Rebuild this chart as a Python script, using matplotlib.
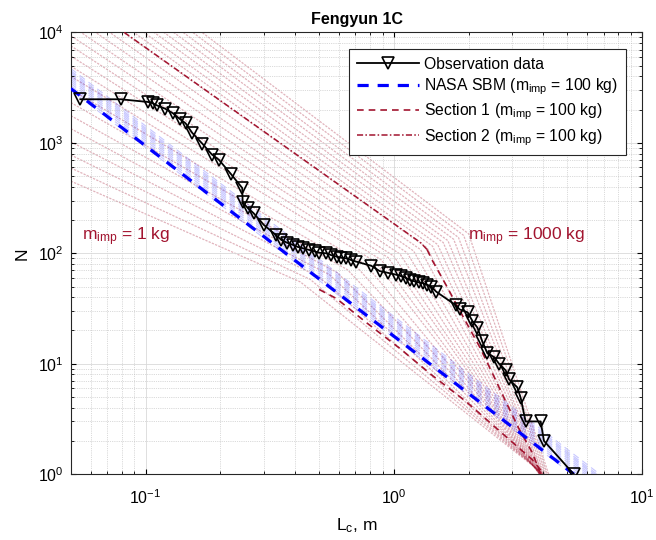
import numpy as np
import matplotlib
matplotlib.use('Agg')
import matplotlib.pyplot as plt

plt.rcParams['font.family'] = ['Liberation Sans', 'DejaVu Sans']
plt.rcParams['mathtext.fontset'] = 'custom'
plt.rcParams['mathtext.rm'] = 'Liberation Sans'
plt.rcParams['mathtext.it'] = 'Liberation Sans:italic'

# observation data (cumulative number of fragments vs characteristic length)
obs_lc = [0.0546, 0.0793, 0.102, 0.107, 0.111, 0.120, 0.129, 0.137, 0.145, 0.154,
          0.169, 0.185, 0.197, 0.220, 0.245, 0.246, 0.258, 0.272, 0.299, 0.334,
          0.352, 0.370, 0.392, 0.410, 0.430, 0.457, 0.480, 0.500, 0.533, 0.560,
          0.590, 0.615, 0.643, 0.670, 0.705, 0.811, 0.876, 0.946, 1.02, 1.07,
          1.12, 1.16, 1.21, 1.26, 1.31, 1.36, 1.41, 1.48, 1.78, 1.84,
          1.98, 2.07, 2.17, 2.27, 2.38, 2.53, 2.65, 2.82, 2.91, 3.14,
          3.24, 3.39, 3.90, 4.02, 5.30]
obs_n = [2480, 2480, 2345, 2280, 2184, 2036, 1848, 1652, 1500, 1233,
         986, 783, 705, 526, 390, 289, 257, 231, 181, 147,
         132, 125, 119, 114, 111, 107, 104, 101, 100, 96,
         93, 91, 90, 87, 84, 77, 69, 66.5, 64, 62,
         59.7, 57.5, 55.6, 54.5, 53.7, 52, 50, 44.9, 33.7, 31,
         29.2, 24.4, 21.2, 15.9, 12.4, 11.5, 10, 8.7, 7.2, 6.1,
         4.9, 3, 3, 2, 1]

# NASA SBM, m_imp = 100 kg
sbm_lc = [0.05, 5.3]
sbm_n = [3100, 1]

# NASA SBM for the other impactor masses (start value at Lc = 0.05, Lc where N = 1)
sbm_fam_n0 = [3000, 3150, 3300, 3450, 3600, 3750, 3900, 4050, 4200, 4350, 4500, 4700]
sbm_fam_end = [5.20, 5.35, 5.49, 5.64, 5.78, 5.91, 6.05, 6.18, 6.32, 6.44, 6.57, 6.74]

# section 2, m_imp = 100 kg
sec2_lc = [0.082, 1.28, 1.36]
sec2_n = [10000, 125, 108]

# section 1, m_imp = 100 kg (steep branch and lower branch)
sec1a_lc = [1.36, 1.43, 1.62, 1.89, 2.21, 2.50, 2.82, 3.19, 3.61, 3.90]
sec1a_n = [108, 85.5, 51.8, 27.2, 14.3, 8.07, 4.55, 2.57, 1.56, 1.0]
sec1b_lc = [0.50, 0.587, 0.774, 1.054, 1.43, 1.95, 2.65, 3.61, 4.02]
sec1b_n = [47, 38.9, 23.6, 13.8, 7.8, 4.55, 2.48, 1.35, 1.0]

# faint model curves for m_imp = 1 ... 1000 kg
fam_n_left = [450, 592, 776, 1021, 1343, 1762, 2317, 3041, 4000, 4943,
              6109, 7551, 9333, 11535, 14256, 17620, 21800, 25590, 30060, 35320,
              41500, 48750, 57280, 67300, 79000]
fam_knee_lc = [0.42, 0.46, 0.50, 0.55, 0.59, 0.65, 0.71, 0.77, 0.84, 0.89,
               0.95, 1.00, 1.06, 1.13, 1.20, 1.28, 1.36, 1.43, 1.50, 1.58,
               1.65, 1.74, 1.82, 1.91, 2.00]
fam_knee_n = [55, 58, 61, 64, 67, 71, 75, 79, 84, 87,
              91, 94, 98, 101, 105, 108, 112, 116, 120, 125,
              130, 134, 139, 145, 150]
fam_end_lc = [4.0, 4.0, 3.98, 3.96, 3.94, 3.92, 3.9, 3.88, 3.86, 3.86,
              3.86, 3.86, 3.87, 3.87, 3.88, 3.89, 3.9, 3.92, 3.95, 3.98,
              4.0, 4.05, 4.1, 4.15, 4.2]

dred = '#A2142F'

fig = plt.figure(figsize=(6.56, 5.4), dpi=100)
ax = fig.add_axes([0.108, 0.122, 0.871, 0.818])

# faint families
for n0, kx, kn, ex in zip(fam_n_left, fam_knee_lc, fam_knee_n, fam_end_lc):
    ax.plot([0.05, kx, ex], [n0, kn, 1], color=dred, alpha=0.32, lw=0.9,
            dashes=(1.8, 1.0), zorder=1)
for n0, ex in zip(sbm_fam_n0, sbm_fam_end):
    ax.plot([0.05, ex], [n0, 1], color='blue', alpha=0.22, lw=0.8,
            dashes=(6, 4), zorder=1)

ax.plot(obs_lc, obs_n, color='k', lw=1.3, marker='v', ms=9, mfc='none',
        mew=1.2, label='Observation data', zorder=5)
ax.plot(sbm_lc, sbm_n, color='blue', lw=2.3, dashes=(3.5, 2.8),
        label='NASA SBM (m$_{\\mathrm{imp}}$ = 100 kg)', zorder=4)
sec1_lc = np.concatenate([sec1a_lc, [np.nan], sec1b_lc])
sec1_n = np.concatenate([sec1a_n, [np.nan], sec1b_n])
ax.plot(sec1_lc, sec1_n, color=dred, lw=1.2, dashes=(4, 3),
        label='Section 1 (m$_{\\mathrm{imp}}$ = 100 kg)', zorder=3)
ax.plot(sec2_lc, sec2_n, color=dred, lw=1.1, dashes=(4, 1.5, 1, 1.5),
        label='Section 2 (m$_{\\mathrm{imp}}$ = 100 kg)', zorder=3)

ax.text(0.0555, 140, 'm$_{\\mathrm{imp}}$ = 1 kg', color=dred, fontsize=12.5, va='center')
ax.text(1.98, 140, 'm$_{\\mathrm{imp}}$ = 1000 kg', color=dred, fontsize=12.5, va='center')

ax.set_xscale('log')
ax.set_yscale('log')
ax.set_xlim(0.05, 10)
ax.set_ylim(1, 1e4)
ax.grid(True, which='major', color='0.85', lw=0.6)
ax.grid(True, which='minor', color='0.72', lw=0.5, linestyle=':')
ax.tick_params(which='both', direction='in', top=True, right=True, labelsize=11.5)
ax.tick_params(axis='x', which='major', pad=10)
ax.tick_params(axis='y', which='major', pad=5)
for s in ax.spines.values():
    s.set_linewidth(0.8)
    s.set_color('0.15')

ax.set_title('Fengyun 1C', fontweight='bold', fontsize=11.5)
ax.set_xlabel('L$_\\mathrm{c}$, m', fontsize=12.5, labelpad=7)
ax.set_ylabel('N', fontsize=12.5, labelpad=6)

leg = ax.legend(loc='upper right', bbox_to_anchor=(0.977, 0.97), fontsize=11.3,
                handlelength=4.0, numpoints=1, fancybox=False, framealpha=1,
                edgecolor='0.15', borderaxespad=0.2, labelspacing=0.3,
                handletextpad=0.3, borderpad=0.5)
leg.get_frame().set_linewidth(0.8)

fig.savefig('out.png', dpi=100)
